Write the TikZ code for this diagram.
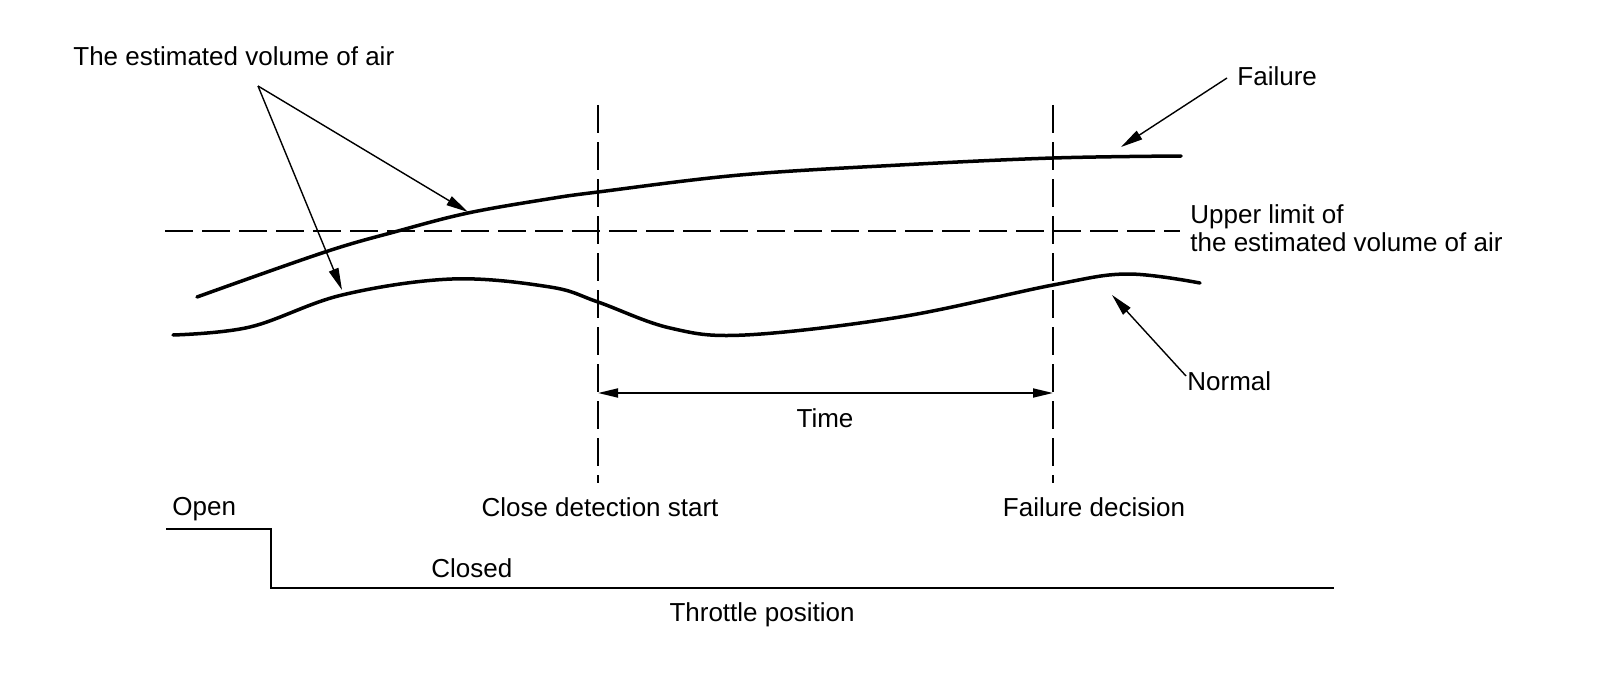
\documentclass[tikz,border=0pt]{standalone}
\usepackage{fontspec}
\setmainfont{Liberation Sans}
\usetikzlibrary{arrows.meta}
\begin{document}
\begin{tikzpicture}[x=0.5pt,y=-0.5pt,
  lbl/.style={font=\fontsize{13pt}{13.75pt}\selectfont, inner sep=0pt},
  curve/.style={line width=1.75pt, line cap=round},
  dashline/.style={line width=0.95pt, dash pattern=on 14pt off 4.5pt},
  ptr/.style={line width=0.7pt, -{Triangle[length=11pt,width=5pt]}},
  timearrow/.style={line width=0.9pt, {Triangle[length=10pt,width=4.5pt]}-{Triangle[length=10pt,width=4.5pt]}},
  thr/.style={line width=0.9pt}
]
\useasboundingbox (0,0) rectangle (1600,674);

% labels
\node[lbl, anchor=base west] (est) at (73,66) {The estimated volume of air};
\node[lbl, anchor=base west] (fail) at (1237,86) {Failure};
\node[lbl, anchor=base west, align=left] (upper) at (1190,251) {Upper limit of\\the estimated volume of air};
\node[lbl, anchor=base west] (normal) at (1187,390) {Normal};
\node[lbl, anchor=base] (time) at (825,427) {Time};
\node[lbl, anchor=base west] (open) at (172,515) {Open};
\node[lbl, anchor=base] (cds) at (600,516) {Close detection start};
\node[lbl, anchor=base] (fd) at (1094,516) {Failure decision};
\node[lbl, anchor=base west] (closed) at (431,577) {Closed};
\node[lbl, anchor=base] (tp) at (762,621) {Throttle position};

% coordinates
\coordinate (estsrc) at (258,86);
\coordinate (tipfail) at (468,212);
\coordinate (tipnorm) at (342,290);
\coordinate (failsrc) at (1227,78);
\coordinate (failtip) at (1121,147);
\coordinate (normsrc) at (1186,376);
\coordinate (normtip) at (1112,295);
\coordinate (v1top) at (598,105);
\coordinate (v1bot) at (598,483);
\coordinate (v2top) at (1053,105);
\coordinate (v2bot) at (1053,483);
\coordinate (hl) at (165,231);
\coordinate (hr) at (1180,231);
\coordinate (t1) at (598,393);
\coordinate (t2) at (1053,393);
\coordinate (th1) at (166,529);
\coordinate (th2) at (271,529);
\coordinate (th3) at (271,588);
\coordinate (th4) at (1334,588);

% dashed lines
\draw[dashline] (hl) -- (hr);
\draw[dashline] (v1top) -- (v1bot);
\draw[dashline] (v2top) -- (v2bot);

% curves
\draw[curve] plot[smooth, tension=0.6] coordinates {(197,297) (325,252) (398,231) (468,213) (548,199) (598,192) (740,175) (900,165) (1053,158) (1181,156)};
\draw[curve] plot[smooth, tension=0.6] coordinates {(173,335) (250,327) (342,295) (452,279) (550,287) (598,302) (670,328) (745,335) (900,317) (1053,285) (1127,274) (1200,283)};

% pointers
\draw[ptr] (estsrc) -- (tipfail);
\draw[ptr] (estsrc) -- (tipnorm);
\draw[ptr] (failsrc) -- (failtip);
\draw[ptr] (normsrc) -- (normtip);

% time
\draw[timearrow] (t1) -- (t2);

% throttle
\draw[thr] (th1) -- (th2) -- (th3) -- (th4);
\end{tikzpicture}
\end{document}
